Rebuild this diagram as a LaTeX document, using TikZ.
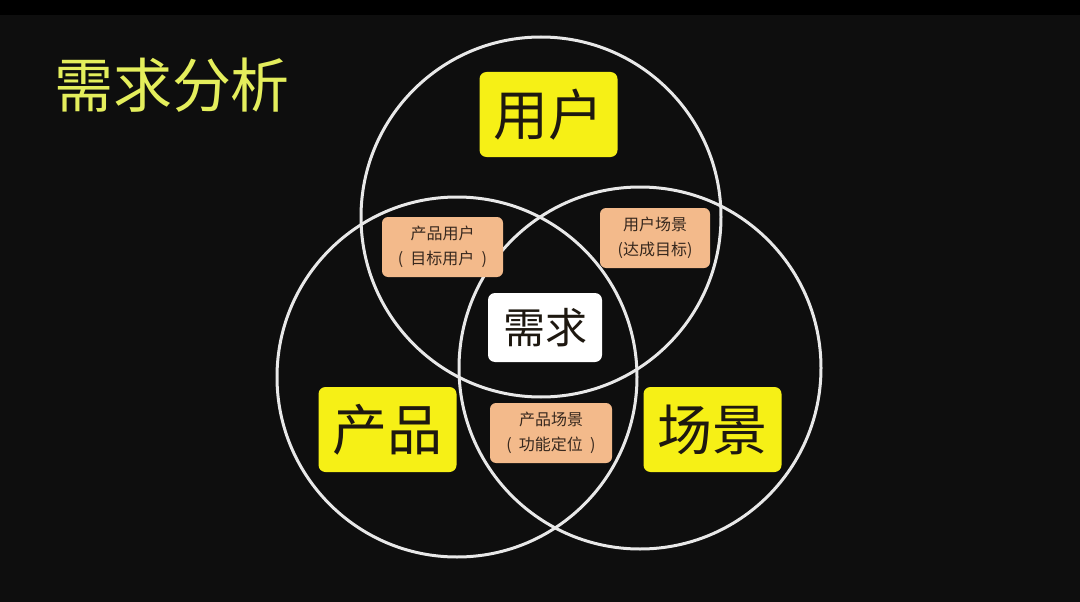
\documentclass[tikz,border=0pt]{standalone}
\usepackage{fontspec}
\newfontfamily\cjk{Noto Sans CJK SC}
\definecolor{bgdark}{RGB}{14,14,14}
\definecolor{ringc}{RGB}{232,232,232}
\definecolor{yel}{RGB}{246,240,22}
\definecolor{peach}{RGB}{243,186,139}
\definecolor{titlec}{RGB}{228,238,92}
\definecolor{inkc}{RGB}{30,24,16}
\definecolor{smallink}{RGB}{55,40,30}
\newcommand{\pgap}{\hspace{0.45em}}
\tikzset{
  ring/.style={draw=ringc, line width=3pt},
  bigbox/.style={fill=yel, rounded corners=7pt, minimum width=138pt, minimum height=85pt, inner sep=0pt, text=inkc, font=\cjk\fontsize{55}{60}\selectfont},
  corebox/.style={fill=white, rounded corners=7pt, minimum width=114pt, minimum height=69pt, inner sep=0pt, text=inkc, font=\cjk\fontsize{42}{48}\selectfont},
  pairbox/.style={fill=peach, rounded corners=6pt, minimum height=60pt, inner sep=0pt, text=smallink, align=center, font=\cjk\fontsize{16}{25}\selectfont},
}
\begin{document}
\begin{tikzpicture}[x=1pt,y=-1pt]
\useasboundingbox (0,0) rectangle (1080,602);
\fill[bgdark] (0,0) rectangle (1080,602);
\fill[black] (0,0) rectangle (1080,15);
% title
\node[text=titlec, font=\cjk\fontsize{59}{64}\selectfont, inner sep=0pt] (title) at (172,85) {需求分析};
% circles
\draw[ring] (541,217) circle[radius=180pt];
\draw[ring] (457,377) circle[radius=180pt];
\draw[ring] (640,368) circle[radius=181pt];
% main boxes
\node[bigbox] (user) at (548.5,114.5) {用户};
\node[bigbox] (product) at (387.5,429.5) {产品};
\node[bigbox] (scene) at (712.5,429.5) {场景};
\node[corebox] (need) at (545,327.5) {需求};
% pair boxes
\node[pairbox, minimum width=121pt] (pu) at (442.5,247) {产品用户\\(\pgap 目标用户\pgap)};
\node[pairbox, minimum width=110pt] (us) at (655,238) {用户场景\\(达成目标)};
\node[pairbox, minimum width=122pt] (ps) at (551,433) {产品场景\\(\pgap 功能定位\pgap)};
\end{tikzpicture}
\end{document}
